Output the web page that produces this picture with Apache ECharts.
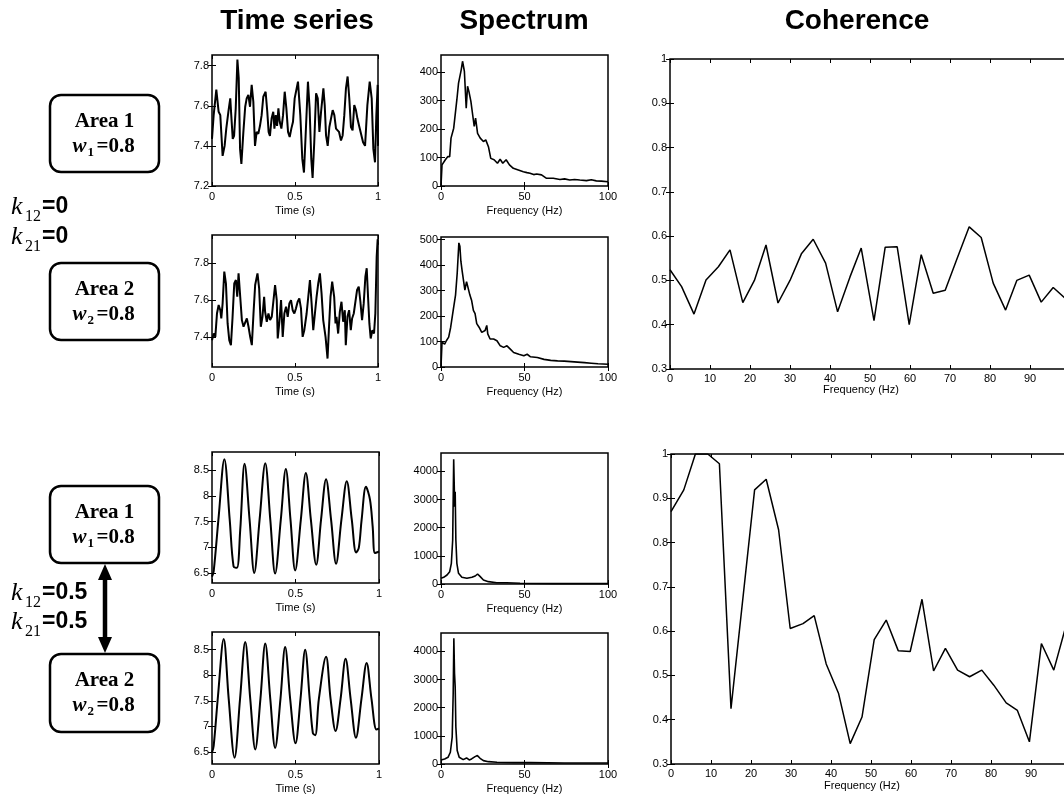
<!DOCTYPE html>
<html>
<head>
<meta charset="UTF-8">
<title>Time series / Spectrum / Coherence</title>
<script src="https://cdn.jsdelivr.net/npm/echarts@6/dist/echarts.min.js"></script>
<style>
  html, body { margin: 0; padding: 0; background: #fff; }
  #main { width: 1064px; height: 799px; }
</style>
</head>
<body>
<div id="main"></div>
<script type="text/javascript">
// ---- data ----
// uncoupled case (k12 = k21 = 0)
var ts1 = [[0,7.435],[0.01,7.553],[0.026,7.68],[0.04,7.57],[0.05,7.553],[0.064,7.35],[0.076,7.40],[0.086,7.486],[0.1,7.578],[0.11,7.637],[0.116,7.553],[0.125,7.435],[0.133,7.45],[0.143,7.587],[0.153,7.83],[0.161,7.738],[0.169,7.385],[0.177,7.31],[0.189,7.47],[0.2,7.595],[0.209,7.637],[0.219,7.654],[0.229,7.595],[0.239,7.704],[0.249,7.62],[0.259,7.40],[0.269,7.47],[0.279,7.46],[0.289,7.50],[0.299,7.553],[0.309,7.645],[0.323,7.67],[0.333,7.57],[0.341,7.47],[0.349,7.45],[0.359,7.536],[0.369,7.57],[0.376,7.486],[0.384,7.553],[0.392,7.50],[0.4,7.587],[0.408,7.52],[0.418,7.486],[0.428,7.553],[0.438,7.67],[0.448,7.587],[0.458,7.47],[0.468,7.444],[0.478,7.486],[0.488,7.52],[0.498,7.637],[0.518,7.72],[0.532,7.553],[0.544,7.335],[0.554,7.267],[0.564,7.452],[0.578,7.72],[0.588,7.587],[0.598,7.335],[0.606,7.24],[0.616,7.418],[0.627,7.662],[0.637,7.637],[0.647,7.47],[0.657,7.57],[0.671,7.687],[0.679,7.603],[0.687,7.452],[0.697,7.40],[0.707,7.494],[0.727,7.578],[0.737,7.553],[0.747,7.486],[0.757,7.477],[0.765,7.47],[0.777,7.427],[0.787,7.452],[0.797,7.553],[0.807,7.687],[0.817,7.746],[0.827,7.637],[0.837,7.494],[0.847,7.477],[0.857,7.603],[0.867,7.578],[0.876,7.536],[0.886,7.50],[0.896,7.494],[0.91,7.418],[0.922,7.40],[0.936,7.603],[0.95,7.72],[0.962,7.637],[0.972,7.385],[0.982,7.318],[0.99,7.553],[0.998,7.704],[1,7.40]];
var ts2 = [[0,7.382],[0.01,7.418],[0.02,7.40],[0.03,7.527],[0.04,7.573],[0.05,7.545],[0.056,7.50],[0.064,7.582],[0.074,7.755],[0.084,7.69],[0.094,7.473],[0.104,7.382],[0.114,7.355],[0.124,7.509],[0.134,7.69],[0.144,7.709],[0.152,7.618],[0.16,7.745],[0.17,7.618],[0.18,7.491],[0.19,7.455],[0.2,7.464],[0.21,7.50],[0.22,7.455],[0.23,7.40],[0.24,7.355],[0.25,7.527],[0.26,7.682],[0.274,7.745],[0.284,7.664],[0.294,7.455],[0.304,7.509],[0.314,7.618],[0.32,7.536],[0.33,7.482],[0.34,7.527],[0.35,7.491],[0.36,7.509],[0.37,7.50],[0.38,7.682],[0.39,7.60],[0.396,7.391],[0.406,7.482],[0.416,7.60],[0.426,7.40],[0.436,7.527],[0.446,7.564],[0.456,7.509],[0.466,7.582],[0.476,7.60],[0.486,7.545],[0.496,7.527],[0.506,7.555],[0.516,7.591],[0.526,7.609],[0.536,7.555],[0.546,7.40],[0.556,7.436],[0.57,7.527],[0.58,7.618],[0.59,7.709],[0.6,7.582],[0.61,7.436],[0.62,7.527],[0.63,7.618],[0.64,7.691],[0.65,7.745],[0.66,7.636],[0.67,7.491],[0.684,7.40],[0.696,7.282],[0.704,7.436],[0.714,7.618],[0.724,7.70],[0.736,7.618],[0.744,7.473],[0.75,7.509],[0.76,7.418],[0.77,7.536],[0.78,7.591],[0.79,7.482],[0.8,7.545],[0.806,7.355],[0.816,7.509],[0.826,7.545],[0.836,7.436],[0.844,7.50],[0.854,7.527],[0.864,7.527],[0.874,7.655],[0.884,7.673],[0.894,7.591],[0.904,7.491],[0.914,7.582],[0.924,7.727],[0.932,7.773],[0.94,7.618],[0.948,7.473],[0.956,7.391],[0.966,7.436],[0.976,7.418],[0.984,7.527],[0.992,7.836],[0.998,7.93],[1,7.90]];
var sp1 = [[0,0],[0.6,74],[2.6,92],[4,103],[5.2,103],[6,168],[7.6,203],[9.5,303],[10.5,361],[11.5,367],[12.1,408],[12.9,438],[14,403],[15.1,273],[15.9,350],[16.7,332],[17.9,297],[19.1,244],[19.9,209],[20.7,238],[21.9,185],[23.5,168],[25.4,156],[26.8,162],[28.4,138],[29.8,97],[31.8,92],[33.8,80],[35.4,94],[37,80],[39,92],[41,74],[43.3,62],[46.3,56],[49.3,50],[51.5,47],[53.3,45],[55.5,40],[57.3,42],[60.2,39],[63.2,27],[67.2,27],[71.2,23],[74,25],[77.1,21],[80,23],[83.1,21],[87.1,19],[90,22],[93,18],[96,17],[100,15]];
var sp2 = [[0,0],[0.6,97],[2.2,90],[3.2,103],[4.6,117],[5.8,156],[7.3,222],[8.7,282],[9.7,368],[10.7,487],[11.3,474],[11.9,415],[12.7,375],[13.5,368],[14.3,302],[15.3,335],[16.3,342],[17.3,282],[18.3,262],[19.4,222],[20.4,209],[21.4,170],[22.8,156],[24.4,136],[25.4,130],[26.4,143],[27.4,163],[28,130],[29.4,110],[31.5,110],[33.5,103],[35.5,83],[37.5,77],[39.5,83],[41.5,70],[43.5,57],[46.6,50],[49.6,44],[51.6,50],[52.6,57],[53.6,40],[57.7,37],[61.7,30],[65.7,26],[69.8,24],[73.8,23],[77.8,21],[81.8,19],[85.9,17],[90,15],[94,13],[100,11]];
var coh1 = [[0,0.524],[2.9,0.486],[6,0.424],[9,0.501],[12.1,0.531],[15,0.569],[18.2,0.45],[21.1,0.5],[24,0.58],[27,0.449],[30,0.5],[32.9,0.561],[35.8,0.593],[38.9,0.539],[41.9,0.429],[45,0.508],[47.8,0.573],[51,0.409],[53.8,0.575],[56.8,0.576],[59.8,0.4],[62.8,0.558],[65.8,0.471],[68.8,0.478],[71.8,0.55],[74.8,0.621],[77.8,0.597],[80.8,0.494],[83.9,0.433],[86.7,0.5],[89.8,0.512],[92.8,0.451],[95.8,0.484],[98.75,0.46]];
// coupled case (k12 = k21 = 0.5)
var ts3 = [[0,6.43],[0.01,6.53],[0.04,7.6],[0.074,8.72],[0.106,7.54],[0.129,6.63],[0.149,6.60],[0.169,7.34],[0.195,8.63],[0.225,7.54],[0.253,6.50],[0.285,7.54],[0.319,8.64],[0.349,7.54],[0.378,6.49],[0.412,7.54],[0.442,8.53],[0.47,7.54],[0.498,6.55],[0.532,7.54],[0.562,8.45],[0.592,7.54],[0.624,6.66],[0.653,7.54],[0.683,8.33],[0.713,7.54],[0.743,6.68],[0.775,7.54],[0.807,8.29],[0.837,7.54],[0.863,6.90],[0.879,6.99],[0.896,7.54],[0.922,8.18],[0.946,7.93],[0.962,7.41],[0.976,6.89],[1,6.92]];
var ts4 = [[0,6.49],[0.01,6.62],[0.036,7.6],[0.07,8.71],[0.1,7.54],[0.135,6.39],[0.168,7.54],[0.199,8.65],[0.229,7.54],[0.259,6.55],[0.29,7.54],[0.319,8.62],[0.349,7.54],[0.378,6.58],[0.41,7.54],[0.438,8.55],[0.468,7.54],[0.5,6.67],[0.53,7.54],[0.558,8.50],[0.585,7.54],[0.604,6.87],[0.618,6.83],[0.64,7.54],[0.683,8.36],[0.71,7.54],[0.74,6.91],[0.77,7.54],[0.8,8.32],[0.83,7.54],[0.862,6.78],[0.895,7.54],[0.926,8.24],[0.955,7.54],[0.985,6.94],[1,6.96]];
var sp3 = [[0,200],[1.6,237],[3.6,320],[5.2,438],[6.2,734],[7,1562],[7.6,4426],[8.2,2745],[8.5,3278],[8.9,1562],[9.5,734],[10.5,379],[12.5,237],[15.5,201],[18.5,237],[20.5,284],[21.9,355],[23.5,260],[25.4,142],[28.4,83],[33.4,47],[39.4,47],[47.3,24],[57,18],[67,12],[80,12],[100,12]];
var sp4 = [[0,143],[2.2,178],[4.2,238],[5.6,417],[6.7,952],[7.3,2500],[7.7,4460],[8.1,3214],[8.5,2738],[8.9,1310],[9.7,476],[10.9,238],[13.3,155],[15.3,214],[16.9,143],[18.3,179],[20.4,262],[21.8,298],[23.4,202],[25.4,119],[28.4,83],[33.5,60],[43.5,48],[53.6,48],[73.8,36],[100,36]];
var coh2 = [[0,0.87],[3.2,0.919],[6.1,1.0],[9.2,1.0],[12.1,0.978],[15,0.425],[20.9,0.919],[23.8,0.943],[26.9,0.829],[29.8,0.606],[33,0.617],[35.8,0.635],[38.8,0.526],[41.9,0.459],[44.8,0.346],[47.75,0.406],[50.8,0.581],[53.8,0.625],[56.8,0.556],[59.8,0.554],[62.75,0.672],[65.65,0.51],[68.6,0.561],[71.65,0.512],[74.65,0.497],[77.7,0.512],[80.7,0.478],[83.8,0.438],[86.6,0.421],[89.6,0.35],[92.6,0.572],[95.7,0.512],[98.4,0.601]];

// tick labels
var timeTicks = [0, 0.5, 1];
var freqTicks = [0, 50, 100];
var cohFreqTicks = [0, 10, 20, 30, 40, 50, 60, 70, 80, 90];
var cohTicks = [0.3, 0.4, 0.5, 0.6, 0.7, 0.8, 0.9, 1];
var ts1Ticks = [7.2, 7.4, 7.6, 7.8];
var ts2Ticks = [7.4, 7.6, 7.8];
var tsCoupledTicks = [6.5, 7, 7.5, 8, 8.5];
var sp1Ticks = [0, 100, 200, 300, 400];
var sp2Ticks = [0, 100, 200, 300, 400, 500];
var spCoupledTicks = [0, 1000, 2000, 3000, 4000];

var SANS = 'Liberation Sans', SERIF = 'Liberation Serif';
var chart = echarts.init(document.getElementById('main'));

var grids = [], xAxes = [], yAxes = [], series = [];
var plain = function (v) { return String(v); };

// one matlab-style box: ticks inside on all four sides, labels on left/bottom
function panel(box, xr, xt, yr, yt, xname, data, o) {
    o = o || {};
    var i = grids.length;
    grids.push({ left: box[0], top: box[1], width: box[2], height: box[3],
        outerBoundsMode: 'none', containLabel: false,
        show: true, borderColor: '#000', borderWidth: 1.5, backgroundColor: '#fff' });
    var tick = function (vals) {
        return { inside: true, length: 4, customValues: vals, lineStyle: { color: '#000', width: 1 } };
    };
    var lbl = { color: '#000', fontSize: 11, fontFamily: SANS, formatter: plain };
    xAxes.push({ gridIndex: i, type: 'value', min: xr[0], max: xr[1], position: 'bottom',
        axisLine: { show: false }, splitLine: { show: false }, axisTick: tick(xt),
        axisLabel: Object.assign({ customValues: xt, margin: o.xm || 5 }, lbl),
        name: xname, nameLocation: 'middle', nameGap: o.ng || 19,
        nameTextStyle: { color: '#000', fontSize: 11, fontFamily: SANS, padding: o.np || 0 } });
    xAxes.push({ gridIndex: i, type: 'value', min: xr[0], max: xr[1], position: 'top',
        axisLine: { show: false }, splitLine: { show: false }, axisTick: tick(xt), axisLabel: { show: false } });
    yAxes.push({ gridIndex: i, type: 'value', min: yr[0], max: yr[1], position: 'left',
        axisLine: { show: false }, splitLine: { show: false }, axisTick: tick(yt),
        axisLabel: Object.assign({ customValues: yt, margin: 3 }, lbl) });
    yAxes.push({ gridIndex: i, type: 'value', min: yr[0], max: yr[1], position: 'right',
        axisLine: { show: false }, splitLine: { show: false }, axisTick: tick(yt), axisLabel: { show: false } });
    series.push({ type: 'line', xAxisIndex: 2 * i, yAxisIndex: 2 * i, data: data,
        showSymbol: false, smooth: o.smooth || false, clip: true,
        lineStyle: { color: '#000', width: o.lw || 1.6 } });
}

panel([212, 55, 166, 131], [0, 1], timeTicks, [7.2, 7.853], ts1Ticks, 'Time (s)', ts1, { lw: 2 });
panel([212, 235, 166, 132], [0, 1], timeTicks, [7.236, 7.954], ts2Ticks, 'Time (s)', ts2, { lw: 2 });
panel([212, 452, 167, 131], [0, 1], timeTicks, [6.305, 8.86], tsCoupledTicks, 'Time (s)', ts3, { smooth: 0.35, lw: 2 });
panel([212, 632, 167, 132], [0, 1], timeTicks, [6.266, 8.845], tsCoupledTicks, 'Time (s)', ts4, { smooth: 0.35, lw: 2 });
panel([441, 55, 167, 131], [0, 100], freqTicks, [0, 460], sp1Ticks, 'Frequency (Hz)', sp1);
panel([441, 237, 167, 130], [0, 100], freqTicks, [0, 510], sp2Ticks, 'Frequency (Hz)', sp2);
panel([441, 453, 167, 131], [0, 100], freqTicks, [0, 4650], spCoupledTicks, 'Frequency (Hz)', sp3);
panel([441, 633, 167, 131], [0, 100], freqTicks, [0, 4650], spCoupledTicks, 'Frequency (Hz)', sp4);
panel([670, 59, 400, 310], [0, 100], cohFreqTicks, [0.3, 1], cohTicks, 'Frequency (Hz)', coh1, { xm: 4, ng: 15, lw: 1.5, np: [0, 18, 0, 0] });
panel([671, 454, 400, 310], [0, 100], cohFreqTicks, [0.3, 1], cohTicks, 'Frequency (Hz)', coh2, { xm: 4, ng: 16, lw: 1.5, np: [0, 18, 0, 0] });

// ---- annotations: column titles, area boxes, coupling labels, arrow ----
var g = [];
function txt(x, y, s, font, align) {
    g.push({ type: 'text', x: x, y: y, style: { text: s, font: font, fill: '#000',
        align: align || 'center', verticalAlign: 'middle' } });
}
txt(297, 21, 'Time series', 'bold 28px ' + SANS);
txt(524, 21, 'Spectrum', 'bold 28px ' + SANS);
txt(857, 21, 'Coherence', 'bold 28px ' + SANS);

function areaBox(y, h, n) {
    var cx = 104.5;
    g.push({ type: 'rect', shape: { x: 50, y: y, width: 109, height: h, r: 11 },
        style: { fill: '#fff', stroke: '#000', lineWidth: 2.5 } });
    txt(cx, y + 27, 'Area ' + n, 'bold 21px ' + SERIF);
    txt(cx - 32, y + 52, 'w', 'italic bold 21px ' + SERIF, 'left');
    txt(cx - 17, y + 58, String(n), 'bold 13px ' + SERIF, 'left');
    txt(cx - 8, y + 52, '=0.8', 'bold 21px ' + SERIF, 'left');
}
areaBox(95, 77, 1);
areaBox(263, 77, 2);
areaBox(486, 77, 1);
areaBox(654, 78, 2);

function kLabel(y, sub, val) {
    txt(11, y, 'k', 'italic 26px ' + SERIF, 'left');
    txt(25, y + 10, sub, '16px ' + SERIF, 'left');
    txt(42, y, val, 'bold 23px ' + SANS, 'left');
}
kLabel(207, '12', '=0');
kLabel(237, '21', '=0');
kLabel(593, '12', '=0.5');
kLabel(622, '21', '=0.5');

g.push({ type: 'line', shape: { x1: 105, y1: 576, x2: 105, y2: 641 }, style: { stroke: '#000', lineWidth: 4.5 } });
g.push({ type: 'polygon', shape: { points: [[105, 564], [98, 580], [112, 580]] }, style: { fill: '#000' } });
g.push({ type: 'polygon', shape: { points: [[105, 653], [98, 637], [112, 637]] }, style: { fill: '#000' } });

chart.setOption({
    animation: false,
    backgroundColor: '#fff',
    grid: grids,
    xAxis: xAxes,
    yAxis: yAxes,
    series: series,
    graphic: g
});
</script>
</body>
</html>
